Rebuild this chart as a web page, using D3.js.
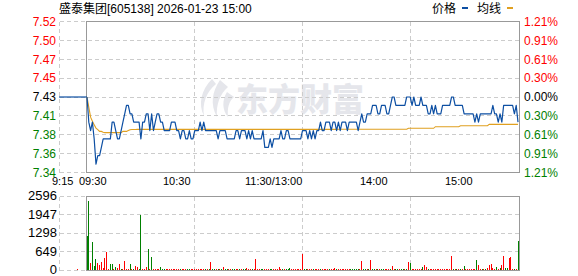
<!DOCTYPE html>
<html>
<head>
<meta charset="utf-8">
<script src="https://cdn.jsdelivr.net/npm/d3@7"></script>
<style>
body { margin: 0; background: #fff; }
svg { display: block; }
</style>
</head>
<body>
<script>
const width = 578;
const height = 276;

// ---- data ----
const title = '盛泰集团[605138] 2026-01-23 15:00';
const prevClose = 7.43;
const priceLabels = ['7.52', '7.50', '7.47', '7.45', '7.43', '7.41', '7.38', '7.36', '7.34'];
const pctLabels = ['1.21%', '0.91%', '0.61%', '0.30%', '0.00%', '0.30%', '0.61%', '0.91%', '1.21%'];
const volTicks = [2596, 1947, 1298, 649, 0];
const timeLabels = ['9:15', '09:30', '10:30', '11:30/13:00', '14:00', '15:00'];

// pre-market 9:15 -> 9:30 (minutes from 9:15)
const preMinutes = [0, 15];
const prePrice = [7.43, 7.43];
const preVolMinute = [10];
const preVolume = [45];

// one point per trading minute, 9:30 .. 15:00
const price = [
  7.43, 7.40, 7.39, 7.40, 7.38, 7.35, 7.36, 7.36, 7.37, 7.38,
  7.38, 7.38, 7.38, 7.38, 7.40, 7.40, 7.39, 7.38, 7.38, 7.39,
  7.40, 7.41, 7.42, 7.42, 7.41, 7.41, 7.40, 7.40, 7.40, 7.40,
  7.38, 7.40, 7.40, 7.41, 7.41, 7.39, 7.41, 7.39, 7.40, 7.41,
  7.41, 7.40, 7.40, 7.39, 7.39, 7.39, 7.39, 7.40, 7.40, 7.40,
  7.39, 7.39, 7.38, 7.39, 7.39, 7.38, 7.38, 7.39, 7.38, 7.38,
  7.39, 7.39, 7.39, 7.40, 7.39, 7.40, 7.39, 7.39, 7.39, 7.39,
  7.39, 7.39, 7.39, 7.38, 7.39, 7.39, 7.39, 7.39, 7.38, 7.38,
  7.38, 7.38, 7.38, 7.39, 7.39, 7.38, 7.39, 7.39, 7.39, 7.38,
  7.39, 7.38, 7.39, 7.38, 7.38, 7.38, 7.38, 7.38, 7.39, 7.37,
  7.37, 7.37, 7.38, 7.37, 7.38, 7.38, 7.38, 7.38, 7.39, 7.38,
  7.38, 7.39, 7.39, 7.38, 7.38, 7.38, 7.38, 7.38, 7.38, 7.38,
  7.39, 7.39, 7.39, 7.38, 7.39, 7.38, 7.39, 7.38, 7.39, 7.39,
  7.40, 7.39, 7.39, 7.40, 7.40, 7.40, 7.39, 7.40, 7.40, 7.39,
  7.40, 7.39, 7.40, 7.40, 7.40, 7.39, 7.40, 7.40, 7.40, 7.40,
  7.40, 7.39, 7.40, 7.41, 7.40, 7.40, 7.41, 7.41, 7.41, 7.42,
  7.42, 7.42, 7.41, 7.41, 7.42, 7.42, 7.42, 7.41, 7.41, 7.42,
  7.43, 7.43, 7.42, 7.42, 7.42, 7.42, 7.42, 7.42, 7.43, 7.43,
  7.43, 7.42, 7.43, 7.42, 7.42, 7.42, 7.43, 7.42, 7.42, 7.42,
  7.41, 7.41, 7.42, 7.41, 7.42, 7.41, 7.41, 7.41, 7.42, 7.42,
  7.42, 7.42, 7.42, 7.43, 7.43, 7.42, 7.42, 7.42, 7.42, 7.42,
  7.41, 7.41, 7.41, 7.41, 7.41, 7.41, 7.40, 7.41, 7.40, 7.41,
  7.41, 7.41, 7.41, 7.41, 7.41, 7.41, 7.42, 7.41, 7.41, 7.40,
  7.41, 7.40, 7.42, 7.42, 7.42, 7.42, 7.42, 7.42, 7.41, 7.42,
  7.40
];

const avgPrice = [
  7.4300, 7.4180, 7.4060, 7.4010, 7.3970, 7.3930, 7.3910, 7.3890, 7.3890, 7.3880,
  7.3875, 7.3875, 7.3875, 7.3875, 7.3875, 7.3875, 7.3875, 7.3875, 7.3875, 7.3875,
  7.3890, 7.3890, 7.3890, 7.3900, 7.3910, 7.3913, 7.3913, 7.3913, 7.3914, 7.3914,
  7.3914, 7.3914, 7.3914, 7.3914, 7.3914, 7.3914, 7.3914, 7.3914, 7.3914, 7.3914,
  7.3914, 7.3914, 7.3914, 7.3914, 7.3914, 7.3914, 7.3914, 7.3914, 7.3914, 7.3914,
  7.3914, 7.3914, 7.3914, 7.3914, 7.3914, 7.3914, 7.3914, 7.3914, 7.3914, 7.3914,
  7.3914, 7.3914, 7.3914, 7.3914, 7.3914, 7.3914, 7.3914, 7.3914, 7.3914, 7.3914,
  7.3914, 7.3914, 7.3914, 7.3914, 7.3914, 7.3914, 7.3914, 7.3914, 7.3914, 7.3914,
  7.3914, 7.3914, 7.3914, 7.3914, 7.3914, 7.3914, 7.3914, 7.3914, 7.3914, 7.3914,
  7.3914, 7.3914, 7.3914, 7.3914, 7.3914, 7.3914, 7.3914, 7.3914, 7.3914, 7.3914,
  7.3914, 7.3914, 7.3914, 7.3914, 7.3914, 7.3914, 7.3914, 7.3914, 7.3914, 7.3914,
  7.3914, 7.3914, 7.3914, 7.3914, 7.3914, 7.3914, 7.3914, 7.3914, 7.3914, 7.3914,
  7.3914, 7.3914, 7.3914, 7.3914, 7.3914, 7.3914, 7.3914, 7.3914, 7.3914, 7.3914,
  7.3914, 7.3914, 7.3914, 7.3914, 7.3914, 7.3914, 7.3914, 7.3914, 7.3914, 7.3914,
  7.3915, 7.3915, 7.3915, 7.3915, 7.3915, 7.3915, 7.3915, 7.3915, 7.3915, 7.3915,
  7.3915, 7.3915, 7.3915, 7.3915, 7.3915, 7.3915, 7.3915, 7.3915, 7.3915, 7.3915,
  7.3915, 7.3915, 7.3915, 7.3915, 7.3915, 7.3915, 7.3915, 7.3915, 7.3915, 7.3915,
  7.3915, 7.3915, 7.3915, 7.3915, 7.3915, 7.3915, 7.3915, 7.3915, 7.3915, 7.3927,
  7.3927, 7.3927, 7.3927, 7.3927, 7.3927, 7.3927, 7.3927, 7.3927, 7.3927, 7.3927,
  7.3927, 7.3927, 7.3927, 7.3927, 7.3946, 7.3946, 7.3946, 7.3946, 7.3946, 7.3946,
  7.3946, 7.3946, 7.3946, 7.3946, 7.3946, 7.3946, 7.3946, 7.3946, 7.3958, 7.3958,
  7.3958, 7.3958, 7.3958, 7.3958, 7.3958, 7.3958, 7.3958, 7.3958, 7.3958, 7.3958,
  7.3958, 7.3958, 7.3958, 7.3958, 7.3974, 7.3974, 7.3974, 7.3974, 7.3974, 7.3974,
  7.3974, 7.3974, 7.3974, 7.3974, 7.3974, 7.3974, 7.3974, 7.3974, 7.3974, 7.3974,
  7.3974
];

const volume = [
  1210, 2407, 256, 968, 126, 396, 256, 187, 280, 80,
  432, 642, 45, 221, 221, 45, 105, 60, 210, 45,
  45, 327, 45, 45, 221, 45, 45, 150, 105, 45,
  1940, 45, 45, 105, 747, 45, 467, 45, 45, 45,
  45, 105, 45, 40, 45, 40, 45, 45, 40, 45,
  45, 40, 45, 45, 40, 45, 45, 40, 45, 45,
  40, 45, 45, 40, 45, 45, 40, 45, 45, 290,
  45, 40, 45, 45, 40, 45, 90, 45, 40, 45,
  45, 40, 45, 45, 40, 45, 45, 40, 45, 80,
  45, 40, 45, 45, 396, 45, 40, 45, 45, 40,
  45, 45, 40, 45, 45, 40, 45, 105, 45, 40,
  45, 45, 40, 80, 45, 40, 45, 45, 40, 45,
  572, 45, 40, 45, 45, 40, 45, 45, 40, 45,
  45, 40, 45, 45, 40, 45, 45, 40, 80, 45,
  45, 40, 45, 45, 40, 45, 45, 40, 45, 45,
  40, 45, 45, 327, 45, 40, 45, 45, 362, 45,
  40, 45, 45, 40, 45, 45, 40, 45, 45, 40,
  150, 45, 40, 45, 45, 40, 45, 45, 40, 290,
  256, 45, 40, 45, 45, 40, 45, 105, 187, 105,
  45, 40, 45, 45, 40, 45, 45, 40, 45, 45,
  40, 45, 45, 502, 45, 40, 45, 45, 40, 45,
  150, 45, 40, 45, 45, 40, 45, 362, 187, 45,
  40, 45, 45, 80, 187, 221, 80, 45, 105, 45,
  80, 187, 502, 80, 80, 432, 467, 45, 30, 30,
  1028
];

// r = up minute (red), g = down minute (green)
const volDir = (
  'ggrgggrrrr' + 'rrrggrgrrg' + 'rrrrgrgrrg' + 'grrrgrgrrr' + 'rgggrrrrrr' +
  'rrgrrrggrr' + 'rrrrrrgrgr' + 'ggrgrgrggr' + 'rggrrgrggr' + 'rrgrrrrggr' +
  'rrggrrrrrg' + 'rgggrrrrrr' + 'rggrrrgrrr' + 'grrrrgrrrg' + 'rrrrrrrggg' +
  'ggrrggrgrg' + 'grgrggrrrg' + 'rrggrggrgr' + 'grrrrrrgrr' + 'grrrrrrrrr' +
  'rrrrgrgrgr' + 'grrrrrrgrr' + 'grgrrrrrgr' + 'grrggrrrgr' + 'g'
).split('');

// ---- layout ----
const preLeft = 59, left = 87, right = 518;
const pTop = 21.5, pBottom = 172.5;
const vTop = 196, vBottom = 270;
const timeLabelX = [52, 79, 163, 245, 360, 445];

const red = '#ff0000', green = '#008000', grid = '#cccccc', border = '#999999';
const latin = '"Liberation Sans", Arial, "Noto Sans CJK SC", sans-serif';

const svg = d3.select('body')
  .append('svg')
  .attr('width', width)
  .attr('height', height)
  .attr('font-family', latin);

const x = d3.scaleLinear().domain([0, 240]).range([left, right]);
const xPre = d3.scaleLinear().domain([0, 15]).range([preLeft, left]);
const y = d3.scaleLinear().domain([prevClose - 0.09, prevClose + 0.09]).range([pBottom, pTop]);
const yVol = d3.scaleLinear().domain([0, volTicks[0]]).range([vBottom, vTop]);

const priceTickValues = priceLabels.map((d, i) => prevClose + 0.09 - i * 0.0225);
const px = v => Math.floor(v) + 0.5;
const frameLeft = px(xPre(15)) - 1, frameRight = px(x(240)) + 1;
const gridXs = [60, 120, 180].map(m => px(x(m)));

// ---- watermark ----
const wm = svg.append('g').attr('fill', '#e5e6eb');
wm.append('path')
  .attr('d', 'M212,79 C201,90 198,104 204,116 C202,104 206,92 216,84 Z M220,80 C212,92 210,104 217,117 C216,104 220,94 228,87 Z M227,92 C222,100 222,110 228,117 C227,108 229,101 234,97 Z');
wm.append('text')
  .attr('x', 236)
  .attr('y', 111)
  .attr('font-family', '"Noto Sans CJK SC"')
  .attr('font-weight', 900)
  .attr('font-size', 32)
  .text('东方财富');

// ---- grid ----
const gridG = svg.append('g')
  .attr('stroke', grid)
  .attr('stroke-dasharray', '4,3')
  .attr('shape-rendering', 'crispEdges');

gridG.selectAll('.hp')
  .data(priceTickValues)
  .join('line')
  .attr('x1', px(preLeft)).attr('x2', frameRight)
  .attr('y1', d => px(y(d))).attr('y2', d => px(y(d)));

gridG.selectAll('.hv')
  .data(volTicks)
  .join('line')
  .attr('class', 'hv')
  .attr('x1', px(preLeft)).attr('x2', frameRight)
  .attr('y1', d => px(yVol(d))).attr('y2', d => px(yVol(d)));

[[px(y(priceTickValues[0])), px(y(priceTickValues[8]))], [px(yVol(volTicks[0])), px(yVol(0))]]
  .forEach(([t, b]) => {
    gridG.append('line').attr('x1', px(preLeft)).attr('x2', px(preLeft)).attr('y1', t).attr('y2', b);
    gridXs.forEach(gx => gridG.append('line').attr('x1', gx).attr('x2', gx).attr('y1', t).attr('y2', b));
  });

// ---- panel frames ----
[[px(y(priceTickValues[0])), px(y(priceTickValues[8]))], [px(yVol(volTicks[0])), px(yVol(0))]]
  .forEach(([t, b]) => {
    svg.append('rect')
      .attr('x', frameLeft).attr('y', t)
      .attr('width', frameRight - frameLeft).attr('height', b - t)
      .attr('fill', 'none')
      .attr('stroke', border)
      .attr('shape-rendering', 'crispEdges');
  });

// ---- volume bars ----
svg.append('g')
  .attr('shape-rendering', 'crispEdges')
  .selectAll('rect')
  .data(volume)
  .join('rect')
  .attr('x', (d, i) => Math.floor(x(i)))
  .attr('y', d => yVol(d))
  .attr('width', 1)
  .attr('height', d => yVol(0) - yVol(d))
  .attr('fill', (d, i) => volDir[i] === 'r' ? red : green);

svg.append('g')
  .attr('shape-rendering', 'crispEdges')
  .selectAll('rect')
  .data(preVolume)
  .join('rect')
  .attr('x', (d, i) => Math.floor(xPre(preVolMinute[i])))
  .attr('y', d => yVol(d))
  .attr('width', 1)
  .attr('height', d => yVol(0) - yVol(d))
  .attr('fill', red);

// ---- price lines ----
svg.append('path')
  .datum(prePrice)
  .attr('fill', 'none')
  .attr('stroke', '#0d4fa3')
  .attr('stroke-width', 1.2)
  .attr('d', d3.line().x((d, i) => xPre(preMinutes[i])).y(d => y(d)));

svg.append('path')
  .datum(avgPrice)
  .attr('fill', 'none')
  .attr('stroke', '#e0a020')
  .attr('stroke-width', 1.1)
  .attr('d', d3.line().x((d, i) => x(i)).y(d => y(d)));

svg.append('path')
  .datum(price)
  .attr('fill', 'none')
  .attr('stroke', '#0d4fa3')
  .attr('stroke-width', 1.2)
  .attr('stroke-linejoin', 'round')
  .attr('d', d3.line().x((d, i) => x(i)).y(d => y(d)));

// ---- axes ----
const tone = i => i < 4 ? red : i === 4 ? '#000' : green;

const leftAxis = svg.append('g')
  .attr('transform', 'translate(56,0)')
  .call(d3.axisLeft(y).tickValues(priceTickValues).tickFormat((d, i) => priceLabels[i]).tickSize(0).tickPadding(0));
leftAxis.select('.domain').remove();
leftAxis.selectAll('text')
  .attr('font-family', latin).attr('font-size', 12)
  .attr('fill', (d, i) => tone(i));

const rightAxis = svg.append('g')
  .attr('transform', 'translate(524,0)')
  .call(d3.axisRight(y).tickValues(priceTickValues).tickFormat((d, i) => pctLabels[i]).tickSize(0).tickPadding(0));
rightAxis.select('.domain').remove();
rightAxis.selectAll('text')
  .attr('font-family', latin).attr('font-size', 12)
  .attr('fill', (d, i) => tone(i));

const volAxis = svg.append('g')
  .attr('transform', 'translate(57,0)')
  .call(d3.axisLeft(yVol).tickValues(volTicks).tickFormat(d3.format('d')).tickSize(0).tickPadding(0));
volAxis.select('.domain').remove();
volAxis.selectAll('text')
  .attr('font-family', latin).attr('font-size', 13)
  .attr('dy', '0.28em')
  .attr('fill', '#000');

svg.append('g')
  .selectAll('text')
  .data(timeLabels)
  .join('text')
  .attr('x', (d, i) => timeLabelX[i])
  .attr('y', 185)
  .attr('font-size', 11)
  .attr('fill', '#000')
  .text(d => d);

// ---- title & legend ----
svg.append('text')
  .attr('x', 59)
  .attr('y', 13)
  .attr('font-size', 12)
  .attr('fill', '#000')
  .text(title);

const legend = svg.append('g').attr('font-size', 12).attr('fill', '#000');
legend.append('text').attr('x', 432).attr('y', 13).text('价格');
legend.append('rect').attr('x', 462).attr('y', 7).attr('width', 6).attr('height', 2).attr('fill', '#0d4fa3');
legend.append('text').attr('x', 477).attr('y', 13).text('均线');
legend.append('rect').attr('x', 507).attr('y', 7).attr('width', 6).attr('height', 2).attr('fill', '#e0a020');
</script>
</body>
</html>
